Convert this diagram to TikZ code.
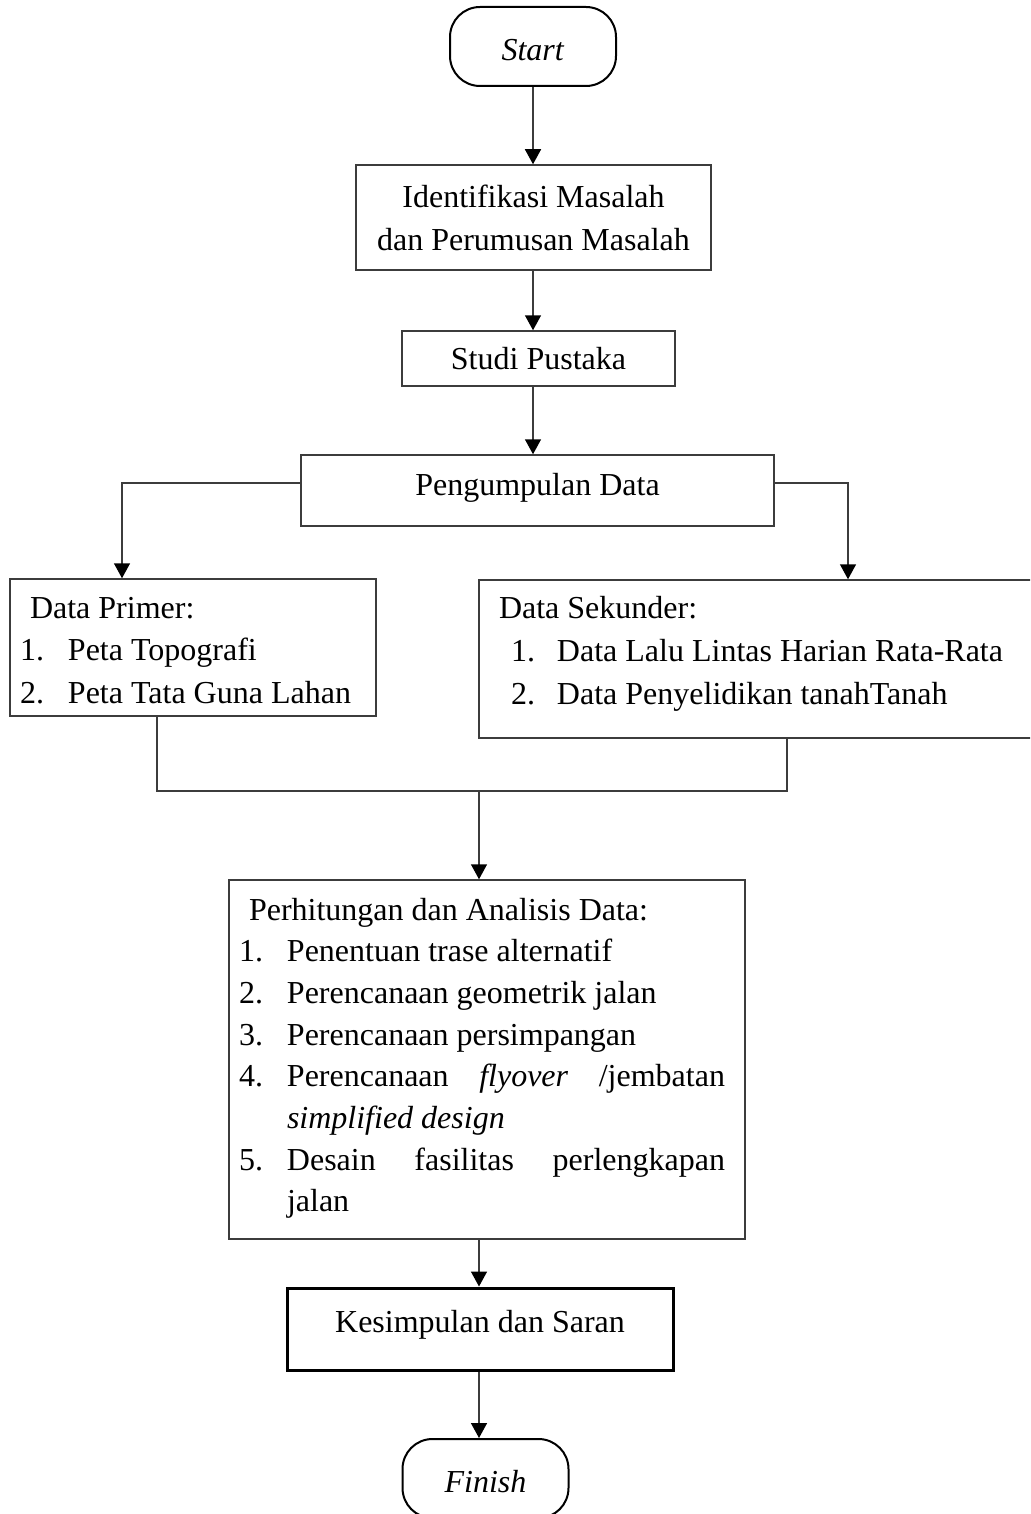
\documentclass[tikz,border=0pt]{standalone}
\usepackage{fontspec}
\setmainfont{Liberation Serif}
\usetikzlibrary{arrows.meta}
\definecolor{lc}{HTML}{3C3C3C}
\newcommand{\itmx}[4]{\hspace*{#1}\makebox[#2][l]{#3}#4}
\newcommand{\jst}[1]{\makebox[438pt][s]{#1}}
\begin{document}
\begin{tikzpicture}[x=1pt,y=-1pt,
  every node/.style={font=\fontsize{32}{42}\selectfont},
  box/.style={draw=lc, line width=1.5pt, inner sep=0pt},
  term/.style={draw=black, line width=2pt, rounded corners=30pt, minimum width=166pt, minimum height=79pt, inner sep=0pt, text height=28pt, text depth=0pt},
  conn/.style={draw=lc, line width=1.5pt},
  arr/.style={conn, -{Triangle[length=15pt,width=16pt,color=black]}}]
\useasboundingbox (0,0) rectangle (1030,1514);
\clip (0,0) rectangle (1030,1514);
\fill[white] (0,0) rectangle (1030,1514);

% nodes
\node[term] (start) at (533,46.5) {\textit{Start}};
\node[box, minimum width=355pt, minimum height=105pt, align=center, font=\fontsize{32}{43}\selectfont] (iden) at (533.5,217.5) {Identifikasi Masalah\\dan Perumusan Masalah};
\node[box, minimum width=273pt, minimum height=55pt] (studi) at (538.5,358.5) {Studi Pustaka};
\node[box, minimum width=473pt, minimum height=71pt, text height=22pt, text depth=13pt] (peng) at (537.5,490.5) {Pengumpulan Data};
\node[box] (prim) at (193,647.5) {\parbox[c][137pt][t]{366pt}{\fontsize{32}{42.5}\selectfont\rule{0pt}{39pt}\hspace*{20pt}Data Primer:\\
  \itmx{10pt}{48pt}{1.}{Peta Topografi}\\
  \itmx{10pt}{48pt}{2.}{Peta Tata Guna Lahan}}};
\node[box] (sek) at (764,659) {\parbox[c][158pt][t]{570pt}{\fontsize{32}{43}\selectfont\rule{0pt}{38pt}\hspace*{20pt}Data Sekunder:\\
  \itmx{32pt}{46pt}{1.}{Data Lalu Lintas Harian Rata-Rata}\\
  \itmx{32pt}{46pt}{2.}{Data Penyelidikan tanahTanah}}};
\node[box] (ana) at (487,1059.5) {\parbox[c][359pt][t]{516pt}{\fontsize{32}{41.7}\selectfont\rule{0pt}{40pt}\hspace*{20pt}Perhitungan dan Analisis Data:\\
  \itmx{10pt}{48pt}{1.}{Penentuan trase alternatif}\\
  \itmx{10pt}{48pt}{2.}{Perencanaan geometrik jalan}\\
  \itmx{10pt}{48pt}{3.}{Perencanaan persimpangan}\\
  \itmx{10pt}{48pt}{4.}{\jst{Perencanaan \textit{flyover} /jembatan}}\\
  \itmx{10pt}{48pt}{}{\textit{simplified design}}\\
  \itmx{10pt}{48pt}{5.}{\jst{Desain fasilitas perlengkapan}}\\
  \itmx{10pt}{48pt}{}{jalan}}};
\node[box, draw=black, line width=3pt, minimum width=386pt, minimum height=82pt, text height=22pt, text depth=16pt] (kes) at (480,1329) {Kesimpulan dan Saran};
\node[term] (fin) at (485.5,1478.5) {\textit{Finish}};

% helper coordinates
\coordinate (cl) at (122,483);
\coordinate (cr) at (848,483);
\coordinate (pl) at (157,791);
\coordinate (pr) at (787,791);
\coordinate (m) at (479,791);

% connectors
\draw[arr] (start.south) -- (start.south |- iden.north);
\draw[arr] (start.south |- iden.south) -- (start.south |- studi.north);
\draw[arr] (start.south |- studi.south) -- (start.south |- peng.north);
\draw[arr] (cl -| peng.west) -- (cl) -- (cl |- prim.north);
\draw[arr] (cr -| peng.east) -- (cr) -- (cr |- sek.north);
\draw[conn] (pl |- prim.south) -- (pl) -- (pr) -- (pr |- sek.south);
\draw[arr] (m) -- (m |- ana.north);
\draw[arr] (m |- ana.south) -- (m |- kes.north);
\draw[arr] (m |- kes.south) -- (m |- fin.north);
\end{tikzpicture}
\end{document}
